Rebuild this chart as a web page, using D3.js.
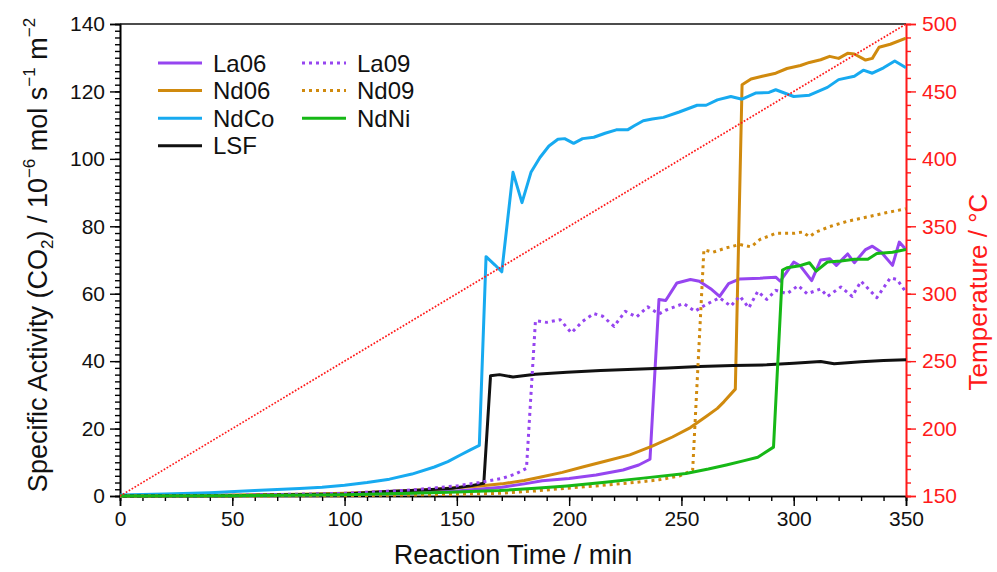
<!DOCTYPE html>
<html>
<head>
<meta charset="utf-8">
<script src="https://cdn.jsdelivr.net/npm/d3@7"></script>
<style>
  html, body { margin: 0; padding: 0; background: #fff; }
  svg { display: block; font-family: 'Liberation Sans', Arial, sans-serif; }
</style>
</head>
<body>
<script>
// [time (min), specific activity]
const la06 = [[0,0],[50,0.1],[100,0.4],[130,0.9],[150,1.5],[170,2.6],[180,3.6],[188,4.5],[200,5.2],[212,6.2],[224,7.7],[231,9.2],[236,10.9],
  [240,58.3],[243,58],[248,63.2],[254,64.2],[258,63.7],[263,61.5],[267,59.2],[271,63],[276,64.4],[285,64.6],[292,64.9],[294,63.7],
  [300,69.4],[303,68.2],[308,63.9],[312,70],[316,70.4],[319,68.4],[324,71.8],[327,69.2],[332,73.1],[335,74.1],[339,72.3],[344,68.4],[347,75.3],[350,73.1]];
const nd06 = [[0,0],[40,0.2],[80,0.5],[100,0.8],[120,1.3],[140,2.0],[160,3.0],[170,3.6],[180,4.6],[188,5.7],[197,7.0],[206,8.6],[216,10.3],
  [227,12.2],[237,14.8],[246,17.5],[254,20.3],[261,23.6],[266,26],[269,28],[274,31.7],[277,122],[281,123.7],[286,124.5],[292,125.4],
  [297,126.8],[303,127.7],[307,128.6],[312,129.4],[316,130.4],[320,129.8],[324,131.3],[327,131.1],[332,129.3],[335,129.8],[338,133.1],[343,134],[350,135.8]];
const ndco = [[0,0.3],[20,0.6],[40,1.0],[60,1.6],[80,2.2],[90,2.6],[100,3.2],[110,4.0],[120,5.0],[130,6.5],[140,8.6],[146,10.2],[152,12.3],
  [156,13.7],[160,15],[163,71],[167,68.5],[170,66.5],[175,96],[179,87],[183,96],[187,100.4],[191,103.8],[195,105.8],[198,106],[202,104.6],
  [206,106],[211,106.4],[216,107.6],[221,108.6],[226,108.6],[229,109.8],[233,111.3],[237,111.8],[242,112.3],[249,113.9],[257,115.9],
  [261,115.9],[266,117.5],[272,118.5],[277,117.7],[283,119.5],[289,119.7],[292,120.5],[300,118.5],[307,118.9],[315,121.2],[320,123.5],
  [327,124.5],[331,126.3],[335,125.4],[340,127],[345,129],[350,127]];
const lsf = [[0,0],[50,0.1],[100,0.6],[119,1.3],[135,1.8],[148,2.3],[156,3],[162,3.8],[165,35.7],[169,36],[175,35.3],[185,36.1],[199,36.7],
  [214,37.2],[229,37.6],[244,38],[258,38.4],[273,38.7],[288,38.9],[300,39.4],[312,39.9],[318,39.2],[330,39.8],[340,40.2],[350,40.4]];
const la09 = [[0,0],[50,0.2],[100,0.8],[130,1.8],[150,3.0],[160,4.0],[170,5.2],[176,6.5],[181,8.2],[185,52],[190,51.5],[196,52.3],[201,48.4],
  [206,51.8],[211,54.1],[215,53.3],[220,50.3],[225,54.8],[230,53.1],[235,56.1],[240,54],[243,55.1],[251,57.1],[256,54.8],[261,56.8],
  [267,58.8],[272,56.3],[276,59.3],[280,55.8],[284,60.7],[288,58.3],[292,61],[297,60],[302,62.4],[306,60],[312,61.4],[315,59.2],
  [321,62],[326,59.2],[330,63.7],[337,58.8],[343,64.7],[346,64.2],[350,60.5]];
const nd09 = [[0,0],[50,0],[100,0.1],[130,0.3],[150,0.5],[169,0.8],[185,1.5],[199,2.3],[214,3.1],[229,4],[240,4.8],[249,5.9],[255,7.7],
  [260,73],[264,72.3],[270,73.6],[276,74.6],[281,73.9],[285,76.1],[292,77.9],[300,77.9],[304,78.3],[307,76.9],[310,78.3],[316,79.9],
  [324,81.5],[333,82.8],[341,84],[350,85.2]];
const ndni = [[0,0],[50,0.1],[100,0.4],[130,0.8],[150,1.2],[169,1.6],[185,2.3],[199,3],[216,4.1],[233,5.3],[252,6.7],[262,8],[270,9.2],
  [278,10.5],[284,11.5],[291,14.5],[295,67],[297,67.7],[302,68.2],[307,69.2],[310,66.7],[315,69.4],[321,69.7],[327,70.2],[333,70.2],
  [337,71.9],[344,72.3],[350,73.1]];

// temperature ramp (min, °C)
const tempTime = [0, 350];
const tempValue = [150, 500];

const xTicks = [0, 50, 100, 150, 200, 250, 300, 350];
const yTicks = [0, 20, 40, 60, 80, 100, 120, 140];
const tTicks = [150, 200, 250, 300, 350, 400, 450, 500];

const series = [
  { name: 'La06', data: la06, color: '#9645f0', dash: null },
  { name: 'Nd06', data: nd06, color: '#d08a0e', dash: null },
  { name: 'NdCo', data: ndco, color: '#17aaf0', dash: null },
  { name: 'LSF',  data: lsf,  color: '#111111', dash: null },
  { name: 'La09', data: la09, color: '#9645f0', dash: '3,4' },
  { name: 'Nd09', data: nd09, color: '#d08a0e', dash: '3,4' },
  { name: 'NdNi', data: ndni, color: '#16b816', dash: null }
];

const width = 997;
const height = 572;
const red = '#ff1a1a';

const x = d3.scaleLinear().domain([0, 350]).range([120, 906]);
const y = d3.scaleLinear().domain([0, 140]).range([496, 24]);
const yT = d3.scaleLinear().domain([150, 500]).range([496, 24]);

const svg = d3.select('body').append('svg')
  .attr('width', width)
  .attr('height', height);

svg.append('defs').append('clipPath').attr('id', 'plot')
  .append('rect').attr('x', 120).attr('y', 22).attr('width', 786).attr('height', 476);

// axes
svg.append('g').attr('transform', 'translate(0,496)')
  .call(d3.axisBottom(x).tickValues(d3.range(0, 351, 10)).tickSize(5).tickFormat(''));
const xMajor = svg.append('g').attr('transform', 'translate(0,496)')
  .call(d3.axisBottom(x).tickValues(xTicks).tickSize(10).tickPadding(5));
xMajor.selectAll('text').attr('font-size', 21).attr('fill', '#111');

svg.append('g').attr('transform', 'translate(120,0)')
  .call(d3.axisLeft(y).tickValues(d3.range(0, 141, 2)).tickSize(5).tickFormat(''));
const yMajor = svg.append('g').attr('transform', 'translate(120,0)')
  .call(d3.axisLeft(y).tickValues(yTicks).tickSize(10).tickPadding(5));
yMajor.selectAll('text').attr('font-size', 21).attr('fill', '#111');

const rMinor = svg.append('g').attr('transform', 'translate(906,0)')
  .call(d3.axisRight(yT).tickValues(d3.range(150, 501, 10)).tickSize(5).tickFormat(''));
const rMajor = svg.append('g').attr('transform', 'translate(906,0)')
  .call(d3.axisRight(yT).tickValues(tTicks).tickSize(10).tickPadding(6));
rMajor.selectAll('text').attr('font-size', 21).attr('fill', red);
[rMinor, rMajor].forEach(g => {
  g.selectAll('line, path').attr('stroke', red);
});

svg.selectAll('.domain').attr('stroke-width', 1.6);
svg.selectAll('.tick line').attr('stroke-width', 1.4);

// top frame
svg.append('line')
  .attr('x1', 120).attr('x2', 906)
  .attr('y1', y(140)).attr('y2', y(140))
  .attr('stroke', '#111').attr('stroke-width', 1.6);

// data lines
const plot = svg.append('g').attr('clip-path', 'url(#plot)');
const line = d3.line().x(d => x(d[0])).y(d => y(d[1]));

plot.selectAll('path.series')
  .data(series)
  .join('path')
    .attr('class', 'series')
    .attr('fill', 'none')
    .attr('stroke', d => d.color)
    .attr('stroke-width', 3)
    .attr('stroke-linejoin', 'round')
    .attr('stroke-dasharray', d => d.dash)
    .attr('d', d => line(d.data));

const tempLine = d3.line().x(d => x(d[0])).y(d => yT(d[1]));
plot.append('path')
  .attr('fill', 'none')
  .attr('stroke', red)
  .attr('stroke-width', 1.7)
  .attr('stroke-dasharray', '1.7,1.7')
  .attr('d', tempLine(tempTime.map((t, i) => [t, tempValue[i]])));

// legend
const legend = svg.append('g');
series.forEach((s, i) => {
  const col = i < 4 ? 0 : 1;
  const row = i < 4 ? i : i - 4;
  const lx = col === 0 ? 158 : 302;
  const ly = 63 + row * 27.6;
  legend.append('line')
    .attr('x1', lx).attr('x2', lx + 44)
    .attr('y1', ly).attr('y2', ly)
    .attr('stroke', s.color)
    .attr('stroke-width', 3)
    .attr('stroke-dasharray', s.dash);
  legend.append('text')
    .attr('x', lx + 55).attr('y', ly + 8.5)
    .attr('font-size', 24)
    .attr('fill', '#111')
    .text(s.name);
});

// axis titles
svg.append('text')
  .attr('x', 513).attr('y', 564)
  .attr('text-anchor', 'middle')
  .attr('font-size', 27)
  .attr('fill', '#111')
  .text('Reaction Time / min');

const yTitle = svg.append('text')
  .attr('transform', 'translate(47,255) rotate(-90)')
  .attr('text-anchor', 'middle')
  .attr('font-size', 27)
  .attr('fill', '#111');
yTitle.append('tspan').text('Specific Activity (CO');
yTitle.append('tspan').attr('font-size', 17).attr('dy', 6).text('2');
yTitle.append('tspan').attr('dy', -6).text(') / 10');
yTitle.append('tspan').attr('font-size', 17).attr('dy', -12).text('\u22126');
yTitle.append('tspan').attr('dy', 12).text(' mol s');
yTitle.append('tspan').attr('font-size', 17).attr('dy', -12).text('\u22121');
yTitle.append('tspan').attr('dy', 12).text(' m');
yTitle.append('tspan').attr('font-size', 17).attr('dy', -12).text('\u22122');

svg.append('text')
  .attr('transform', 'translate(987,292) rotate(-90)')
  .attr('text-anchor', 'middle')
  .attr('font-size', 26)
  .attr('fill', red)
  .text('Temperature / \u00b0C');
</script>
</body>
</html>
